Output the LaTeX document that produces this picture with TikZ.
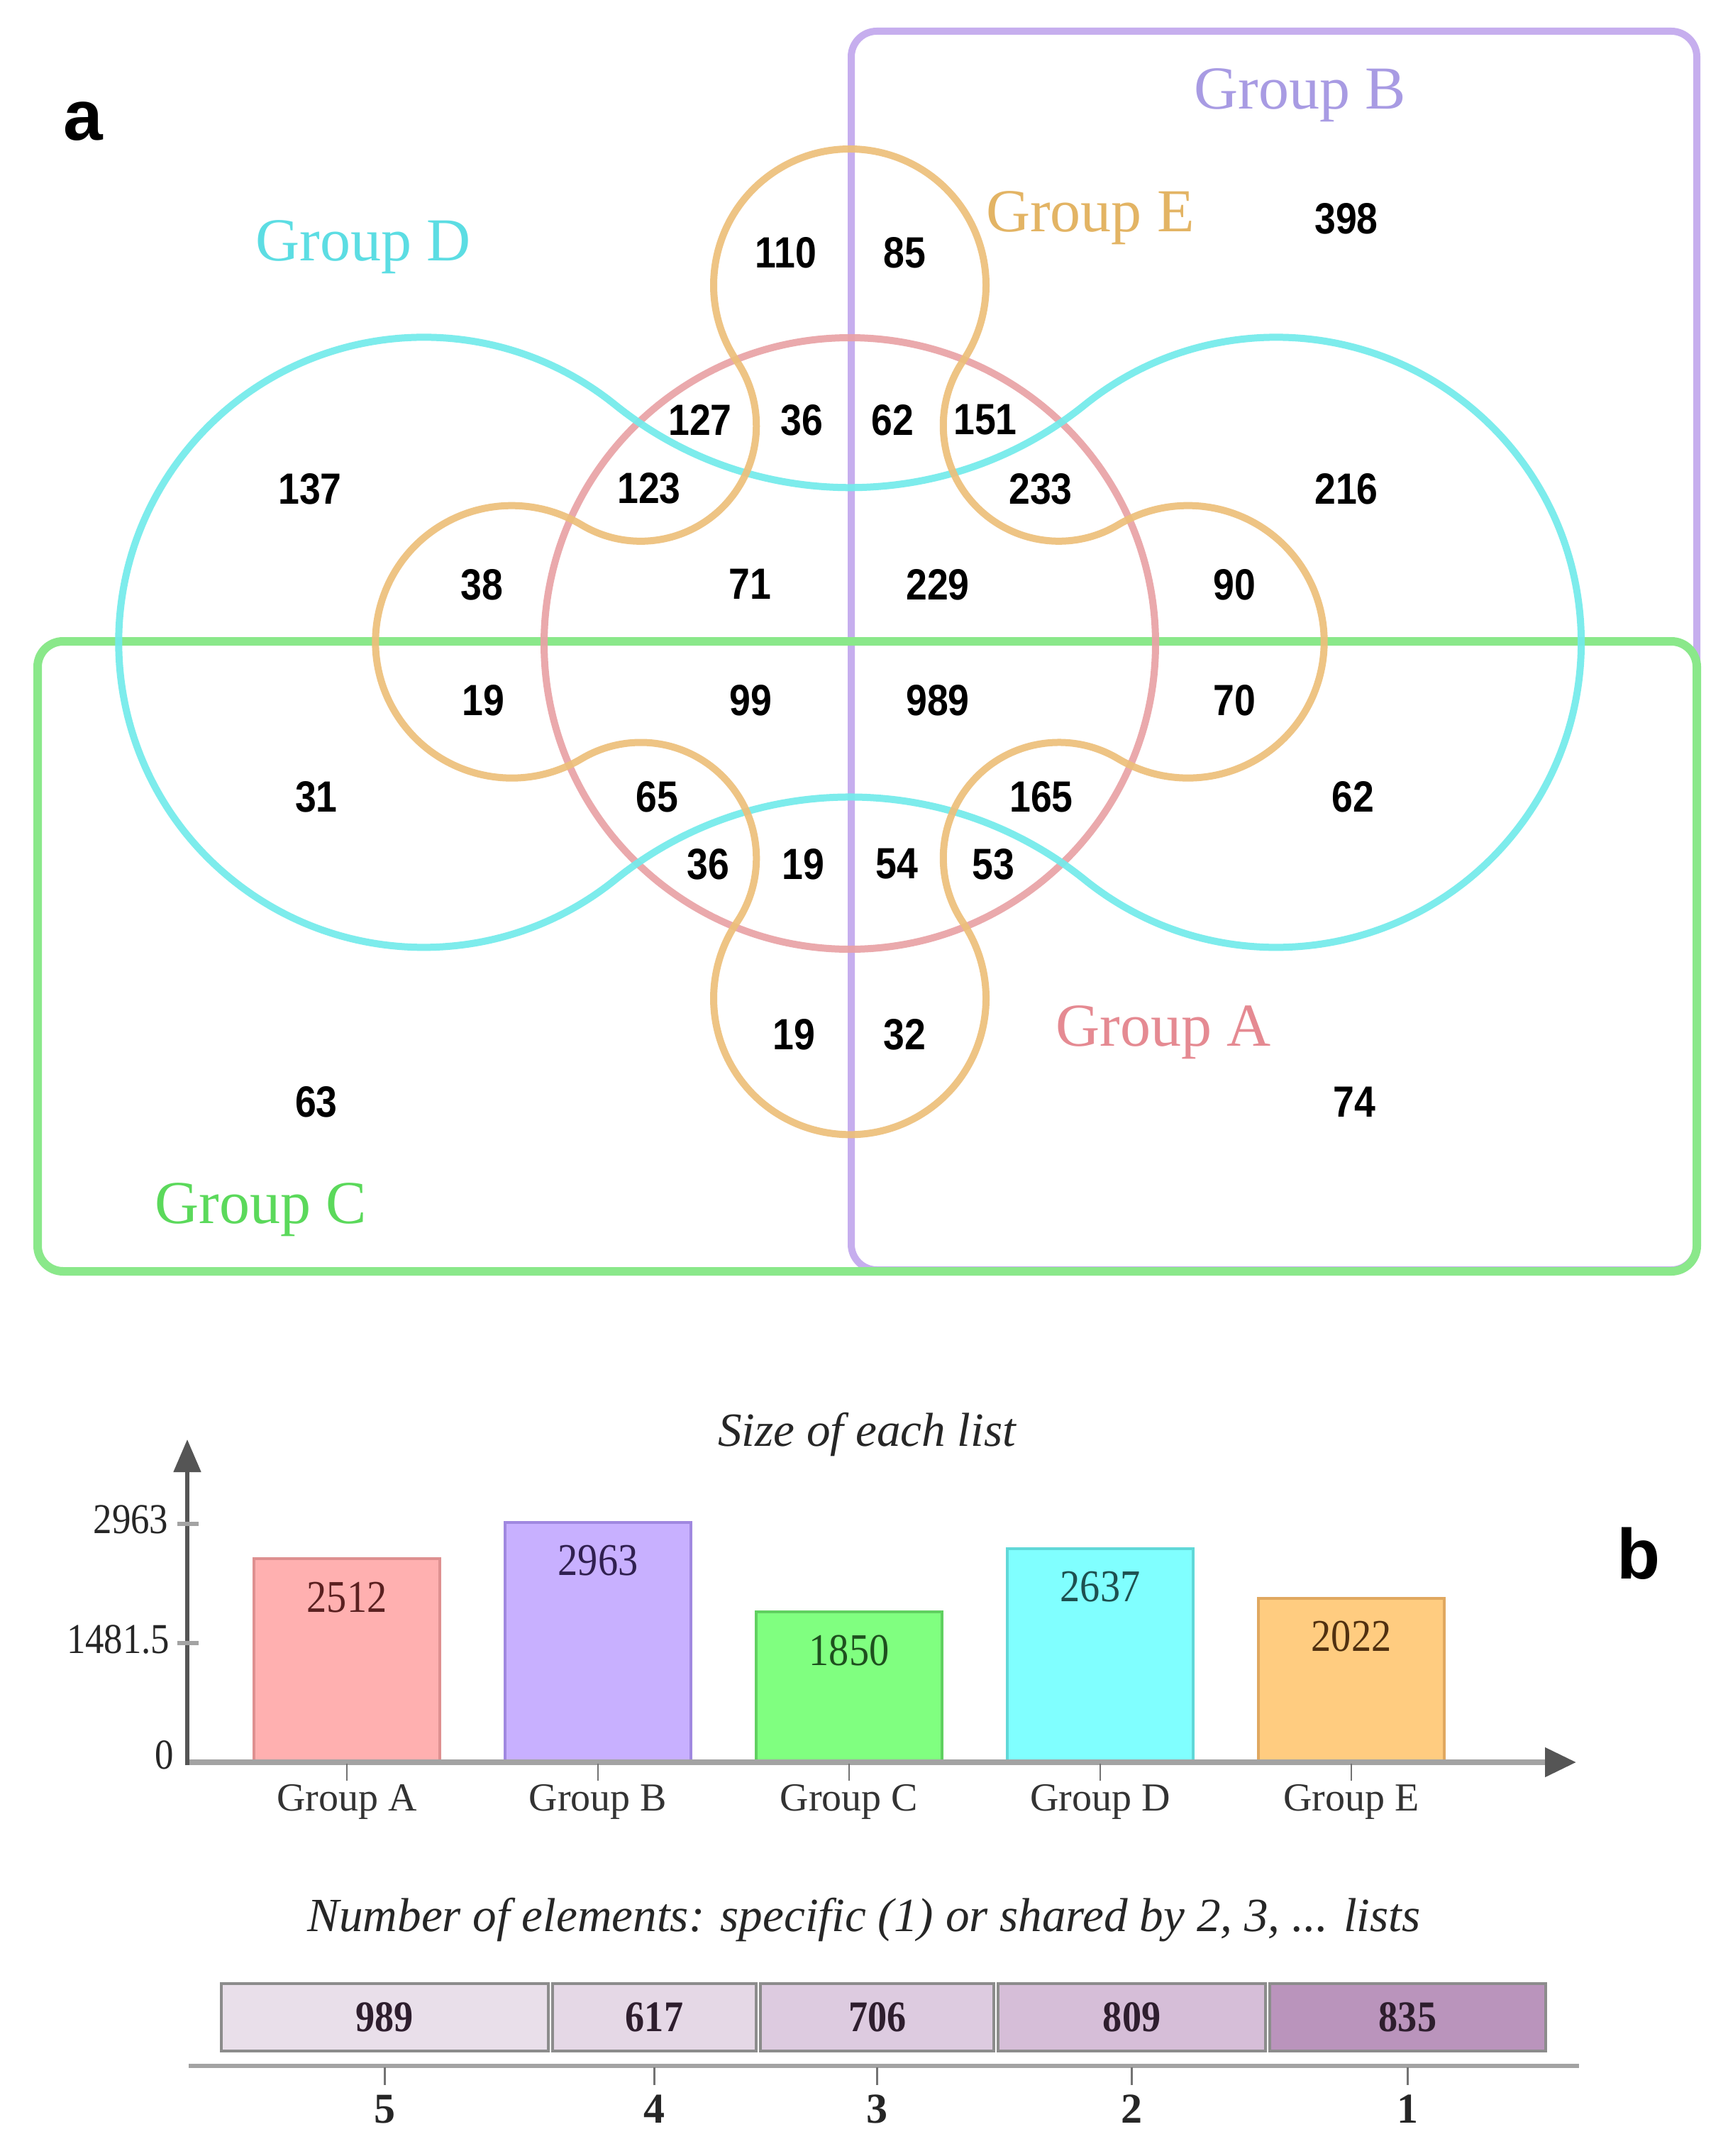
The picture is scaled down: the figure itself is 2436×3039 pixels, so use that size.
\documentclass[tikz,border=0pt]{standalone}
\usepackage{fontspec}
\setmainfont{Liberation Serif}
\newfontfamily\numfont[FakeStretch=0.87]{Liberation Sans}
\newfontfamily\sansfont{Liberation Sans}
\newfontfamily\condserif[FakeStretch=0.88]{Liberation Serif}
\usetikzlibrary{arrows.meta}
\definecolor{cyanL}{HTML}{72EBEB}
\definecolor{redL}{HTML}{E9A2A6}
\definecolor{orgL}{HTML}{EDBF7A}
\definecolor{grnL}{HTML}{8AE88A}
\definecolor{purL}{HTML}{C6AEEE}
\definecolor{cyanT}{HTML}{5CDDE3}
\definecolor{orgT}{HTML}{E3B464}
\definecolor{purT}{HTML}{A89BE3}
\definecolor{redT}{HTML}{E58A92}
\definecolor{grnT}{HTML}{5BD95B}
\definecolor{barAf}{HTML}{FFB0B0}\definecolor{barAd}{HTML}{DE9090}\definecolor{barAt}{HTML}{5A2020}
\definecolor{barBf}{HTML}{C8B0FF}\definecolor{barBd}{HTML}{A088E0}\definecolor{barBt}{HTML}{302050}
\definecolor{barCf}{HTML}{80FF80}\definecolor{barCd}{HTML}{60D060}\definecolor{barCt}{HTML}{1E501E}
\definecolor{barDf}{HTML}{80FFFF}\definecolor{barDd}{HTML}{60D8D8}\definecolor{barDt}{HTML}{1E5050}
\definecolor{barEf}{HTML}{FFCC80}\definecolor{barEd}{HTML}{E0A860}\definecolor{barEt}{HTML}{503010}
\definecolor{axgray}{HTML}{A3A3A3}
\definecolor{tipc}{HTML}{555555}
\definecolor{boxA}{HTML}{E9DFEA}
\definecolor{boxB}{HTML}{E5D8E6}
\definecolor{boxC}{HTML}{DDCBE0}
\definecolor{boxD}{HTML}{D6BED8}
\definecolor{boxE}{HTML}{BA94BC}
\definecolor{boxline}{HTML}{8C8C8C}
\definecolor{boxtext}{HTML}{2E1E2E}
\tikzset{
  num/.style={font=\numfont\bfseries\fontsize{15.4}{18}\selectfont, inner sep=0pt, text=black},
  glabel/.style={font=\fontsize{21.5}{25}\selectfont, inner sep=0pt, anchor=base},
  panel/.style={font=\sansfont\bfseries\fontsize{25}{30}\selectfont, inner sep=0pt},
  vline/.style={line width=2.5pt, opacity=0.92},
  chartlabel/.style={font=\fontsize{14}{16}\selectfont, inner sep=0pt, text=black!80},
  ticklabel/.style={font=\condserif\fontsize{15}{17}\selectfont, inner sep=0pt, text=black!85, anchor=east},
  barval/.style={font=\condserif\fontsize{16}{18}\selectfont, inner sep=0pt},
  title/.style={font=\itshape\fontsize{16.8}{20}\selectfont, inner sep=0pt, text=black!85},
  bar/.style={draw, line width=1pt, minimum width=65.5pt, anchor=south, inner sep=0pt},
  cellbox/.style={draw=boxline, line width=1pt, minimum height=23.75pt, inner sep=0pt,
     font=\condserif\bfseries\fontsize{15.4}{17}\selectfont, text=boxtext},
  lvl/.style={font=\bfseries\fontsize{15}{18}\selectfont, inner sep=0pt, text=black!85},
}
\begin{document}
\begin{tikzpicture}[x=0.25pt,y=-0.25pt]
\useasboundingbox (0,0) rectangle (2436,3039);
\fill[white] (0,0) rectangle (2436,3039);

% ---------- panel a : Venn ----------
\node[panel] (pa) at (117,171) {a};

% Group B and Group C rectangles
\draw[purL, line width=2.5pt, rounded corners=9pt] (1200,44) rectangle (2392,1790);
\draw[grnL, line width=3pt, rounded corners=9pt] (53,904) rectangle (2392,1792);

% Group A
\draw[redL, vline] (1198,907) circle[radius=431];

% Group D
\draw[cyanL, vline] (867,570.5)
  arc[start angle=-51.15, end angle=-308.85, radius=430]
  arc[start angle=-128.85, end angle=-51.15, radius=528]
  arc[start angle=128.85, end angle=-128.85, radius=430]
  arc[start angle=51.15, end angle=128.85, radius=528] -- cycle;

% Group E
\draw[orgL, vline] (1038.6,509)
  arc[start angle=146.13, end angle=393.87, radius=192]
  arc[start angle=213.87, end angle=59.17, radius=163]
  arc[start angle=-120.83, end angle=120.83, radius=192]
  arc[start angle=-59.17, end angle=-213.87, radius=163]
  arc[start angle=-33.87, end angle=213.87, radius=192]
  arc[start angle=33.87, end angle=-120.83, radius=163]
  arc[start angle=59.17, end angle=300.83, radius=192]
  arc[start angle=120.83, end angle=-33.87, radius=163] -- cycle;

% group labels
\node[glabel, text=purT] (lB) at (1833,154) {Group B};
\node[glabel, text=orgT] (lE) at (1537,327) {Group E};
\node[glabel, text=cyanT] (lD) at (512,368) {Group D};
\node[glabel, text=redT] (lA) at (1640,1474) {Group A};
\node[glabel, text=grnT] (lC) at (368,1724) {Group C};

% region counts
\foreach \t/\x/\y [count=\i] in {
  398/1898/308, 110/1108/356, 85/1275/356,
  127/987/592, 36/1130/592, 62/1258/592, 151/1389/592,
  137/437/689, 123/915/688, 233/1467/689, 216/1898/689,
  38/679/824, 71/1057/823, 229/1322/824, 90/1740/824,
  19/681/987, 99/1058/987, 989/1322/987, 70/1740/987,
  31/446/1123, 65/926/1123, 165/1468/1123, 62/1907/1123,
  36/998/1218, 19/1132/1218, 54/1264/1218, 53/1400/1218,
  19/1119/1458, 32/1275/1458,
  63/446/1553, 74/1909/1553}
  \node[num] (v\i) at (\x,\y) {\t};

% ---------- panel b : bar chart ----------
\node[panel] (pb) at (2310,2190) {b};
\node[title] (t1) at (1222,2022) {Size of each list};

\coordinate (o) at (264,2484);
\coordinate (ytip) at (264,2029);
\coordinate (xtip) at (2222,2484);

% bars
\node[bar, fill=barAf, draw=barAd, minimum height=71.2pt] (bA) at (489,2484) {};
\node[bar, fill=barBf, draw=barBd, minimum height=84pt] (bB) at (843,2484) {};
\node[bar, fill=barCf, draw=barCd, minimum height=52.45pt] (bC) at (1197,2484) {};
\node[bar, fill=barDf, draw=barDd, minimum height=74.75pt] (bD) at (1551,2484) {};
\node[bar, fill=barEf, draw=barEd, minimum height=57.3pt] (bE) at (1905,2484) {};

\node[barval, text=barAt] (vA) at ([yshift=-14pt]bA.north) {2512};
\node[barval, text=barBt] (vB) at ([yshift=-14pt]bB.north) {2963};
\node[barval, text=barCt] (vC) at ([yshift=-14pt]bC.north) {1850};
\node[barval, text=barDt] (vD) at ([yshift=-14pt]bD.north) {2637};
\node[barval, text=barEt] (vE) at ([yshift=-14pt]bE.north) {2022};

% axes
\draw[axgray, line width=2pt, -{Triangle[length=11pt,width=10pt,color=tipc]}] (o) -- (xtip);
\draw[tipc, line width=1.3pt, -{Triangle[length=11.5pt,width=9.5pt,color=tipc]}] ([yshift=-1pt]o) -- (ytip);

% y ticks
\coordinate (y1) at (264,2148);
\coordinate (y2) at (264,2316);
\draw[axgray, line width=1.5pt] ([xshift=-3.5pt]y1) -- ([xshift=4pt]y1);
\draw[axgray, line width=1.5pt] ([xshift=-3.5pt]y2) -- ([xshift=4pt]y2);
\node[ticklabel] (tk1) at (238,2142) {2963};
\node[ticklabel] (tk2) at (240,2311) {1481.5};
\node[ticklabel] (tk0) at (246,2474) {0};

% x ticks and labels
\foreach \n/\x in {A/489,B/843,C/1197,D/1551,E/1905}{
  \coordinate (xt\n) at (\x,2486);
  \draw[black!55, line width=0.6pt] (xt\n) -- ++(0,24);
  \node[chartlabel, anchor=base] (g\n) at (\x,2552) {Group \n};
}

% ---------- number of shared elements ----------
\node[title] (t2) at (1218,2706) {Number of elements: specific (1) or shared by 2, 3, ... lists};

\node[cellbox, fill=boxA, minimum width=115.2pt] (c5) at (542.4,2843.5) {989};
\node[cellbox, fill=boxB, minimum width=71.85pt] (c4) at (922.5,2843.5) {617};
\node[cellbox, fill=boxC, minimum width=82.2pt] (c3) at (1236.65,2843.5) {706};
\node[cellbox, fill=boxD, minimum width=94.2pt] (c2) at (1595.55,2843.5) {809};
\node[cellbox, fill=boxE, minimum width=97.25pt] (c1) at (1984.5,2843.5) {835};

\coordinate (la) at (266,2912);
\coordinate (lb) at (2226,2912);
\draw[axgray, line width=1.6pt] (la) -- (lb);
\foreach \k/\x in {5/542.4,4/922.5,3/1236.65,2/1595.55,1/1984.5}{
  \coordinate (lt\k) at (\x,2914);
  \draw[black!55, line width=0.6pt] (lt\k) -- ++(0,25);
  \node[lvl] (lv\k) at (\x,2973) {\k};
}
\end{tikzpicture}
\end{document}
